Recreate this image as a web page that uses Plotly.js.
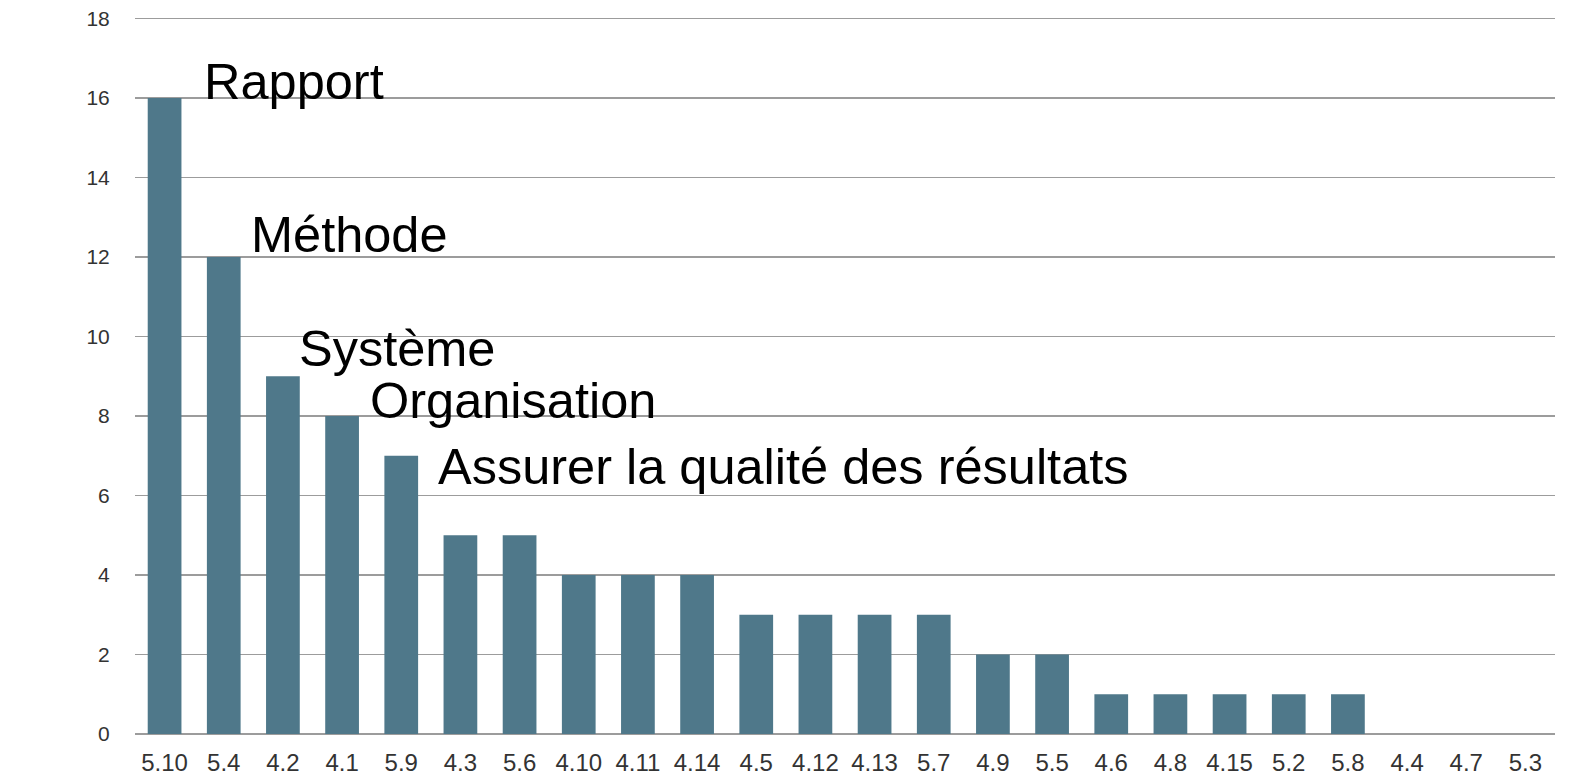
<!DOCTYPE html>
<html>
<head>
<meta charset="utf-8">
<script src="https://cdn.plot.ly/plotly-3.0.1.min.js"></script>
<style>
html,body{margin:0;padding:0;background:#fff;}
#chart{width:1590px;height:782px;}
</style>
</head>
<body>
<div id="chart"></div>
<script>
var categories = ["5.10","5.4","4.2","4.1","5.9","4.3","5.6","4.10","4.11","4.14","4.5","4.12","4.13","5.7","4.9","5.5","4.6","4.8","4.15","5.2","5.8","4.4","4.7","5.3"];
var counts = [16,12,9,8,7,5,5,4,4,4,3,3,3,3,2,2,1,1,1,1,1,0,0,0];
var yTicks = [0,2,4,6,8,10,12,14,16,18];
var labelTexts = ["Rapport","Méthode","Système","Organisation","Assurer la qualité des résultats"];
var labelBars = [0,1,2,3,4];

// layout positions for the labels (offset from bar index, y in data units)
var labelDx = [0.63,0.42,0.24,0.43,0.59];
var labelY = [16.41,12.57,9.71,8.40,6.74];

var annotations = labelTexts.map(function(t,i){
  return {
    text: t, xref:'x', yref:'y',
    x: labelBars[i] + labelDx[i], y: labelY[i],
    xanchor:'left', yanchor:'middle', showarrow:false,
    font:{family:'"Liberation Sans", Arial, sans-serif', size:50.5, color:'#000'}
  };
});

var trace = {
  type:'bar', x:categories, y:counts,
  marker:{color:'#4f788a'},
  hoverinfo:'x+y'
};

var layout = {
  width:1590, height:782,
  margin:{l:135, r:35, t:17, b:48, pad:0},
  paper_bgcolor:'#fff', plot_bgcolor:'#fff',
  bargap:0.43,
  showlegend:false,
  font:{family:'"Liberation Sans", Arial, sans-serif', color:'#333'},
  xaxis:{
    type:'category', tickvals:categories, ticktext:categories,
    showgrid:false, zeroline:false, showline:false,
    ticks:'outside', ticklen:7, tickcolor:'rgba(0,0,0,0)',
    tickfont:{size:24, color:'#333'}
  },
  yaxis:{
    range:[0,18.04], tickvals:yTicks, ticktext:yTicks.map(String),
    showgrid:true, gridcolor:'#9c9c9c', gridwidth:1.5,
    zeroline:true, zerolinecolor:'#9c9c9c', zerolinewidth:2,
    showline:false,
    ticks:'outside', ticklen:20, tickcolor:'rgba(0,0,0,0)',
    tickfont:{size:21, color:'#333'}
  },
  annotations:annotations
};

Plotly.newPlot('chart',[trace],layout,{displayModeBar:false, staticPlot:true});
</script>
</body>
</html>
